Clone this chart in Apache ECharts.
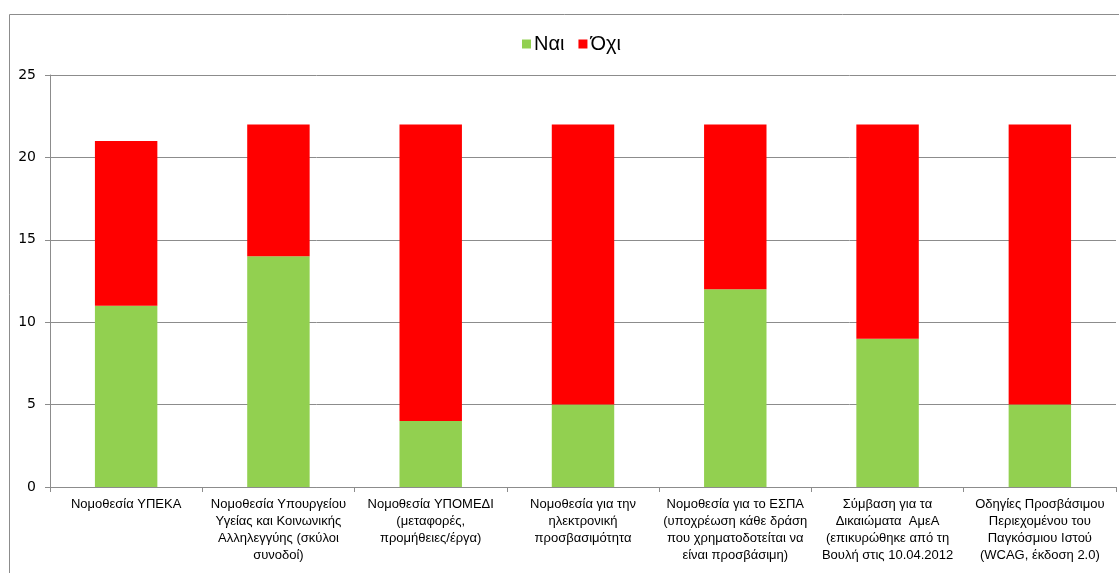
<!DOCTYPE html>
<html><head><meta charset="utf-8">
<script src="https://cdn.jsdelivr.net/npm/echarts@6/dist/echarts.min.js"></script>
<style>html,body{margin:0;padding:0;background:#fff}#c{width:1119px;height:573px}</style>
</head><body><div id="c"></div>
<script>
const categories = [
  "Νομοθεσία ΥΠΕΚΑ",
  "Νομοθεσία Υπουργείου\nΥγείας και Κοινωνικής\nΑλληλεγγύης (σκύλοι\nσυνοδοί)",
  "Νομοθεσία ΥΠΟΜΕΔΙ\n(μεταφορές,\nπρομήθειες/έργα)",
  "Νομοθεσία για την\nηλεκτρονική\nπροσβασιμότητα",
  "Νομοθεσία για το ΕΣΠΑ\n(υποχρέωση κάθε δράση\nπου χρηματοδοτείται να\nείναι προσβάσιμη)",
  "Σύμβαση για τα\nΔικαιώματα  ΑμεΑ\n(επικυρώθηκε από τη\nΒουλή στις 10.04.2012",
  "Οδηγίες Προσβάσιμου\nΠεριεχομένου του\nΠαγκόσμιου Ιστού\n(WCAG, έκδοση 2.0)"
];
const naiValues = [11, 14, 4, 5, 12, 9, 5];
const oxiValues = [10, 8, 18, 17, 10, 13, 17];
const yTicks = [0, 5, 10, 15, 20, 25];

const chart = echarts.init(document.getElementById('c'), null, {renderer: 'canvas'});
chart.setOption({
  animation: false,
  textStyle: {fontFamily: 'Liberation Sans, Arial, sans-serif'},
  graphic: [{
    type: 'rect', shape: {x: 9.5, y: 14.5, width: 1120, height: 570},
    style: {fill: 'none', stroke: '#8c8c8c', lineWidth: 1}, silent: true
  }],
  legend: {
    top: 29, left: 517, itemWidth: 9, itemHeight: 9, itemGap: 14,
    icon: 'rect',
    textStyle: {fontSize: 20, color: '#000', padding: [0, 0, 0, -2],
      fontFamily: 'Liberation Sans, Arial, sans-serif'},
    data: ['Ναι', 'Όχι']
  },
  grid: {left: 50, right: 3, top: 75, bottom: 86},
  xAxis: {
    type: 'category', data: categories,
    axisLine: {lineStyle: {color: '#8c8c8c'}},
    axisTick: {show: true, length: 5, lineStyle: {color: '#8c8c8c'}},
    axisLabel: {interval: 0, fontSize: 13, color: '#000', lineHeight: 17, margin: 9,
      fontFamily: 'Liberation Sans, Arial, sans-serif'}
  },
  yAxis: {
    type: 'value', min: 0, max: 25, interval: 5,
    axisLine: {show: true, lineStyle: {color: '#8c8c8c'}},
    axisTick: {show: true, length: 5, lineStyle: {color: '#8c8c8c'}},
    splitLine: {lineStyle: {color: '#8c8c8c'}},
    axisLabel: {fontSize: 14, color: '#000', margin: 14,
      fontFamily: 'DejaVu Sans, sans-serif',
      formatter: v => yTicks.includes(v) ? String(v) : ''}
  },
  series: [
    {name: 'Ναι', type: 'bar', stack: 't', data: naiValues, barWidth: '41%',
     itemStyle: {color: '#92D050'}},
    {name: 'Όχι', type: 'bar', stack: 't', data: oxiValues, barWidth: '41%',
     itemStyle: {color: '#FF0000'}}
  ]
});
</script></body></html>
